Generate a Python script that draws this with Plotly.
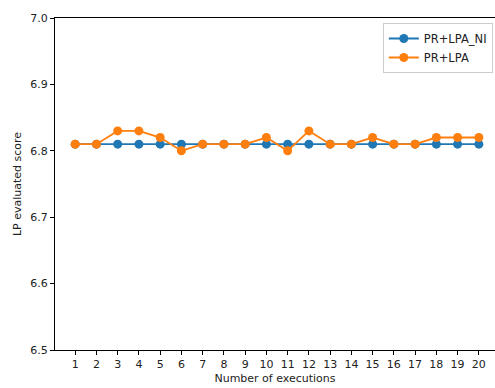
import plotly.graph_objects as go

executions = list(range(1, 21))
pr_lpa_ni = [6.81] * 20
pr_lpa = [6.81, 6.81, 6.83, 6.83, 6.82, 6.80, 6.81, 6.81, 6.81, 6.82,
          6.80, 6.83, 6.81, 6.81, 6.82, 6.81, 6.81, 6.82, 6.82, 6.82]
y_ticks = [6.5, 6.6, 6.7, 6.8, 6.9, 7.0]

BLUE = "#1f77b4"
ORANGE = "#ff7f0e"
FONT = "DejaVu Sans"

fig = go.Figure()
fig.add_trace(go.Scatter(x=executions, y=pr_lpa_ni, mode="lines+markers",
                         name="PR+LPA_NI", line=dict(color=BLUE, width=1.8),
                         marker=dict(size=9, color=BLUE)))
fig.add_trace(go.Scatter(x=executions, y=pr_lpa, mode="lines+markers",
                         name="PR+LPA", line=dict(color=ORANGE, width=1.8),
                         marker=dict(size=9, color=ORANGE)))

fig.update_layout(
    width=495, height=388,
    margin=dict(l=55, r=0, t=18, b=38),
    paper_bgcolor="white", plot_bgcolor="white",
    font=dict(family=FONT, size=11, color="#222"),
    showlegend=True,
    legend=dict(x=0.995, y=0.985, xanchor="right", yanchor="top",
                bgcolor="rgba(255,255,255,0.8)", bordercolor="#cccccc",
                borderwidth=1, font=dict(size=11.5), tracegroupgap=0),
    xaxis=dict(range=[0.05, 20.76], tickmode="array", tickvals=executions,
               ticktext=[str(v) for v in executions],
               showgrid=False, zeroline=False, showline=True, linecolor="black",
               linewidth=1, mirror=True, ticks="outside", ticklen=4,
               tickcolor="black",
               title=dict(text="Number of executions", standoff=4, font=dict(size=11))),
    yaxis=dict(range=[6.5, 7.0], tickmode="array", tickvals=y_ticks,
               ticktext=[f"{v:.1f}" for v in y_ticks],
               showgrid=False, zeroline=False, showline=True, linecolor="black",
               linewidth=1, ticks="outside", ticklen=4, tickcolor="black",
               title=dict(text="LP evaluated score", standoff=6, font=dict(size=11))),
)

fig.write_html("out.html")
